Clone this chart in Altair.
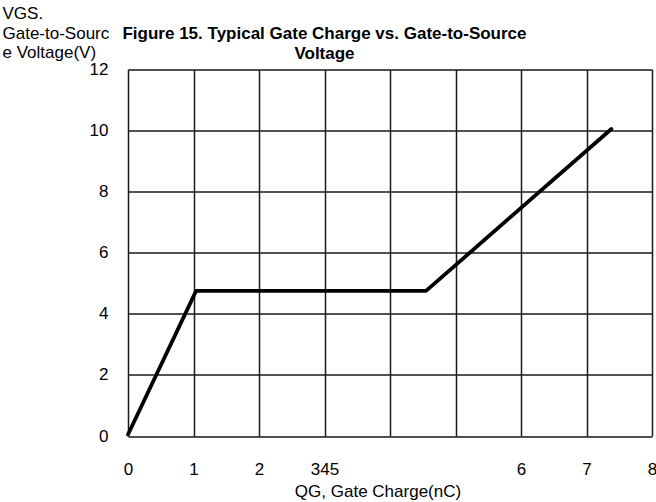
import altair as alt
import pandas as pd

qg = [0.0, 1.04, 4.55, 7.38]
vgs = [0.05, 4.75, 4.75, 10.05]
x_ticks = [0, 1, 2, 3, 4, 5, 6, 7, 8]
x_labels = ["0", "1", "2", "345", "", "", "6", "7", "8"]
y_ticks = [0, 2, 4, 6, 8, 10, 12]

df = pd.DataFrame({"qg": qg, "vgs": vgs})

label_expr = "[" + ",".join(f"'{l}'" for l in x_labels) + "][round(datum.value)]"

font = "Liberation Sans"
fs = 17

chart = alt.Chart(df).mark_line(color="black", strokeWidth=3.8, strokeCap="round", strokeJoin="round").encode(
    x=alt.X("qg:Q", scale=alt.Scale(domain=[0, 8], nice=False, zero=False),
            axis=alt.Axis(values=x_ticks, labelExpr=label_expr, grid=True, gridColor="#1a1a1a",
                          gridWidth=1.5, gridOpacity=1, ticks=False, domain=False,
                          labelPadding=25, labelFontSize=fs, labelFont=font, labelColor="black",
                          title="QG, Gate Charge(nC)", titleFont=font, titleFontSize=fs,
                          titleFontWeight="normal", titleColor="black", titleBaseline="middle",
                          titleX=249.5, titleY=55, titleAnchor="middle", labelFlush=False)),
    y=alt.Y("vgs:Q", scale=alt.Scale(domain=[0, 12], nice=False),
            axis=alt.Axis(values=y_ticks, grid=True, gridColor="#1a1a1a", gridWidth=1.5,
                          gridOpacity=1, ticks=False, domain=False, labelPadding=20,
                          labelFontSize=fs, labelFont=font, labelColor="black",
                          title=["VGS.", "Gate-to-Sourc", "e Voltage(V)"], titleAngle=0,
                          titleAlign="left", titleBaseline="middle", titleX=-126, titleY=-56,
                          titleFont=font, titleFontSize=fs, titleFontWeight="normal",
                          titleColor="black", titleLineHeight=19.5, labelFlush=False)),
).properties(
    width=524,
    height=366.5,
    title=alt.TitleParams(text=["Figure 15. Typical Gate Charge vs. Gate-to-Source", "Voltage"],
                          font=font, fontSize=17, fontWeight="bold", color="black",
                          anchor="middle", dx=-65.5, dy=66, lineHeight=19.5, offset=8),
    autosize=alt.AutoSizeParams(type="none"),
    padding={"left": 128, "top": 69.5, "right": 4, "bottom": 66},
).configure_view(stroke="#1a1a1a", strokeWidth=1.5).configure(background="white")

chart.save("out.html", embed_options={"renderer": "svg", "actions": False})
